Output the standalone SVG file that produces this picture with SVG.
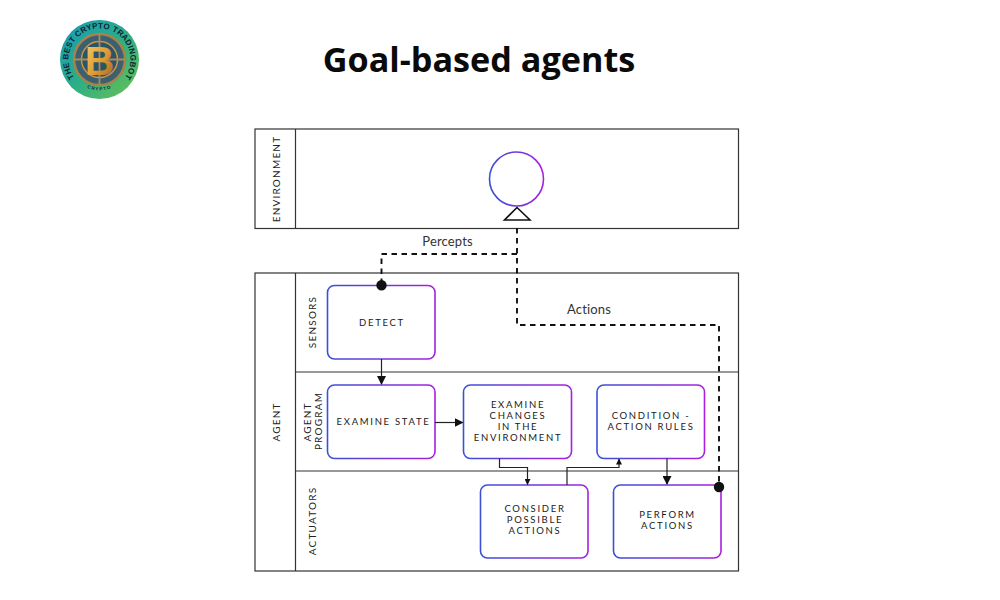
<svg xmlns="http://www.w3.org/2000/svg" width="1000" height="600" viewBox="0 0 1000 600">
<style>
.t{font-family:"Lato","Liberation Sans",sans-serif;font-size:9.5px;letter-spacing:1.7px;fill:#1a1a1a;text-anchor:middle}
.lane{font-family:"Lato","Liberation Sans",sans-serif;font-size:10px;letter-spacing:1.2px;fill:#222;text-anchor:middle}
.lab{font-family:"Lato","Liberation Sans",sans-serif;font-size:13px;letter-spacing:.15px;fill:#333;text-anchor:middle}
.box{fill:#fff;stroke:url(#g);stroke-width:1.6}
.frame{fill:#fff;stroke:#333;stroke-width:1.2}
.div{fill:none;stroke:#333;stroke-width:1.2}
.dash{fill:none;stroke:#111;stroke-width:1.9;stroke-dasharray:5.5 4.500}
.ln{fill:none;stroke:#222;stroke-width:1.2}
</style>
<defs>
<linearGradient id="g" x1="0" y1="0" x2="1" y2="0"><stop offset="0" stop-color="#3a50d8"/><stop offset="1" stop-color="#a81fe0"/></linearGradient>
<linearGradient id="ring" x1="0" y1="0" x2="1" y2="1"><stop offset="0" stop-color="#159ab8"/><stop offset=".5" stop-color="#2cae86"/><stop offset="1" stop-color="#6cc24f"/></linearGradient>
<linearGradient id="coin" x1="0" y1="0" x2="1" y2="1"><stop offset="0" stop-color="#f6cf70"/><stop offset=".55" stop-color="#dd9a32"/><stop offset="1" stop-color="#9a5c18"/></linearGradient>
<marker id="a" markerWidth="9" markerHeight="9" refX="8" refY="4.500" orient="auto" markerUnits="userSpaceOnUse"><path d="M0 0L9 4.500L0 9Z" fill="#111"/></marker>
<marker id="s" markerWidth="6" markerHeight="6" refX="5.500" refY="3" orient="auto" markerUnits="userSpaceOnUse"><path d="M0 0L6 3L0 6Z" fill="#111"/></marker>
<path id="arcTop" d="M77.600 81.400a31 31 0 1 1 43.800 0"/>
<path id="arcBot" d="M79 82a29 29 0 0 0 41 0"/>
</defs>
<rect width="1000" height="600" fill="#fff"/>
<g id="logo">
<circle cx="99.500" cy="59.500" r="39.500" fill="url(#ring)"/>
<circle cx="99.500" cy="59.500" r="25.500" fill="#3d6070" stroke="#a8824a" stroke-width="2.500"/>
<circle cx="99.500" cy="59.500" r="18" fill="#2a5468" stroke="#c4974e" stroke-width="1.500"/>
<path d="M99.500 34V85M74 59.500H125" stroke="#b08a50" stroke-width="1.800"/>
<text x="99.500" y="74.500" font-family="Liberation Sans,sans-serif" font-weight="700" font-size="41" fill="url(#coin)" text-anchor="middle">B</text>
<text font-family="Liberation Sans,sans-serif" font-weight="700" font-size="8" fill="#10233a" letter-spacing=".2"><textPath href="#arcTop" startOffset="50%" text-anchor="middle">THE BEST CRYPTO TRADINGBOT</textPath></text>
<text font-family="Liberation Sans,sans-serif" font-weight="700" font-size="4.500" fill="#10233a" letter-spacing="1.200"><textPath href="#arcBot" startOffset="50%" text-anchor="middle">CRYPTO</textPath></text>
</g>
<text id="title" x="479" y="72" font-family="'Open Sans','Liberation Sans',sans-serif" font-weight="700" font-size="34.200" fill="#0a0a0a" text-anchor="middle">Goal-based agents</text>
<g id="environment">
<rect class="frame" x="255" y="129" width="483.500" height="99.500"/>
<path class="div" d="M295.500 129V228.500"/>
<text class="lane" transform="translate(280 179) rotate(-90)">ENVIRONMENT</text>
</g>
<g id="agent">
<rect class="frame" x="255" y="273" width="483.500" height="298"/>
<path class="div" d="M295.500 273V571M295.500 372H738.500M295.500 471H738.500"/>
<text class="lane" transform="translate(279.500 422) rotate(-90)">AGENT</text>
<text class="lane" transform="translate(315.500 322) rotate(-90)">SENSORS</text>
<text class="lane" transform="translate(310.500 422) rotate(-90)">AGENT</text>
<text class="lane" transform="translate(321.500 421) rotate(-90)">PROGRAM</text>
<text class="lane" transform="translate(315.500 521) rotate(-90)">ACTUATORS</text>
</g>
<g id="goal"><circle cx="516.500" cy="179" r="27" fill="#fff" stroke="url(#g)" stroke-width="1.600"/></g>
<g id="detect"><rect class="box" x="327.500" y="285.500" width="107.500" height="73.500" rx="7"/><text class="t" x="382" y="326">DETECT</text></g>
<g id="examine-state"><rect class="box" x="327.500" y="385" width="107.500" height="73.500" rx="7"/><text class="t" x="383.500" y="425">EXAMINE STATE</text></g>
<g id="examine-changes"><rect class="box" x="463.500" y="385" width="108" height="73.500" rx="7"/><text class="t" x="518" y="408">EXAMINE</text><text class="t" x="518" y="419">CHANGES</text><text class="t" x="518" y="430">IN THE</text><text class="t" x="518" y="441">ENVIRONMENT</text></g>
<g id="condition-action"><rect class="box" x="597" y="385" width="107.500" height="73.500" rx="7"/><text class="t" x="651" y="419">CONDITION -</text><text class="t" x="651" y="430">ACTION RULES</text></g>
<g id="consider"><rect class="box" x="480.500" y="485" width="107.500" height="73" rx="7"/><text class="t" x="535" y="512">CONSIDER</text><text class="t" x="535" y="523">POSSIBLE</text><text class="t" x="535" y="534">ACTIONS</text></g>
<g id="perform"><rect class="box" x="613.500" y="485" width="107.500" height="73" rx="7"/><text class="t" x="667.500" y="518">PERFORM</text><text class="t" x="667.500" y="529">ACTIONS</text></g>
<g id="connectors">
<path d="M517 207.500L504.500 220H530Z" fill="#fff" stroke="#111" stroke-width="1.600"/>
<path class="dash" d="M517 228V325H719V487"/>
<path class="dash" d="M517 254H381.500V285"/>
<circle cx="381.500" cy="285.300" r="5.200" fill="#111"/>
<circle cx="719" cy="487" r="5.200" fill="#111"/>
<path class="ln" d="M381.500 359V384" marker-end="url(#a)"/>
<path class="ln" d="M435 422.500H462.500" stroke="#111" marker-end="url(#a)"/>
<path class="ln" d="M499.500 458.500V467.500H527.500V484.500" marker-end="url(#s)"/>
<path class="ln" d="M567 485V467.500H619V459" marker-end="url(#s)"/>
<path class="ln" d="M667 458.500V484" marker-end="url(#a)"/>
<text class="lab" x="447.500" y="246">Percepts</text>
<text class="lab" x="589" y="314">Actions</text>
</g>
</svg>
